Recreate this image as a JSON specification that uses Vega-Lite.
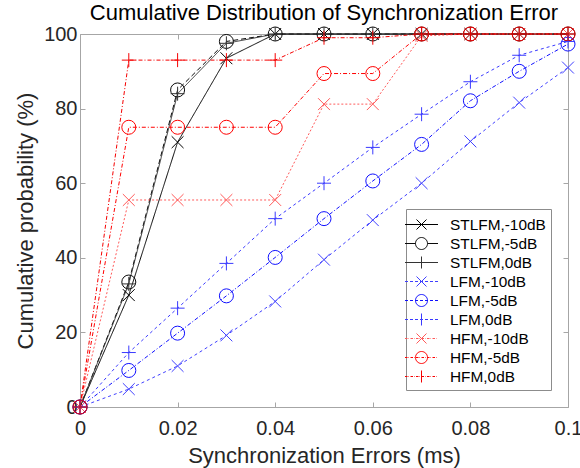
{
  "$schema": "https://vega.github.io/schema/vega-lite/v6.json",
  "width": 488,
  "height": 373,
  "autosize": {"type": "none"},
  "padding": {"left": 80, "top": 34, "right": 12, "bottom": 61},
  "background": "white",
  "config": {"view": {"stroke": null}, "font": "Liberation Sans"},
  "title": {"text": "Cumulative Distribution of Synchronization Error", "fontSize": 22, "fontWeight": "normal", "color": "#000000", "anchor": "middle", "offset": -1},
  "data": {"values": [
    {"s":"STLFM,-10dB","x":0,"y":0},{"s":"STLFM,-10dB","x":0.01,"y":30},{"s":"STLFM,-10dB","x":0.02,"y":71},{"s":"STLFM,-10dB","x":0.03,"y":93.5},{"s":"STLFM,-10dB","x":0.04,"y":100},{"s":"STLFM,-10dB","x":0.05,"y":100},{"s":"STLFM,-10dB","x":0.06,"y":100},{"s":"STLFM,-10dB","x":0.07,"y":100},{"s":"STLFM,-10dB","x":0.08,"y":100},{"s":"STLFM,-10dB","x":0.09,"y":100},{"s":"STLFM,-10dB","x":0.1,"y":100},
    {"s":"STLFM,-5dB","x":0,"y":0},{"s":"STLFM,-5dB","x":0.01,"y":33.5},{"s":"STLFM,-5dB","x":0.02,"y":85},{"s":"STLFM,-5dB","x":0.03,"y":98},{"s":"STLFM,-5dB","x":0.04,"y":100},{"s":"STLFM,-5dB","x":0.05,"y":100},{"s":"STLFM,-5dB","x":0.06,"y":100},{"s":"STLFM,-5dB","x":0.07,"y":100},{"s":"STLFM,-5dB","x":0.08,"y":100},{"s":"STLFM,-5dB","x":0.09,"y":100},{"s":"STLFM,-5dB","x":0.1,"y":100},
    {"s":"STLFM,0dB","x":0,"y":0},{"s":"STLFM,0dB","x":0.01,"y":33},{"s":"STLFM,0dB","x":0.02,"y":84},{"s":"STLFM,0dB","x":0.03,"y":97.5},{"s":"STLFM,0dB","x":0.04,"y":100},{"s":"STLFM,0dB","x":0.05,"y":100},{"s":"STLFM,0dB","x":0.06,"y":100},{"s":"STLFM,0dB","x":0.07,"y":100},{"s":"STLFM,0dB","x":0.08,"y":100},{"s":"STLFM,0dB","x":0.09,"y":100},{"s":"STLFM,0dB","x":0.1,"y":100},
    {"s":"LFM,-10dB","x":0,"y":0},{"s":"LFM,-10dB","x":0.01,"y":4.8},{"s":"LFM,-10dB","x":0.02,"y":11},{"s":"LFM,-10dB","x":0.03,"y":19.2},{"s":"LFM,-10dB","x":0.04,"y":28.3},{"s":"LFM,-10dB","x":0.05,"y":39.5},{"s":"LFM,-10dB","x":0.06,"y":50.1},{"s":"LFM,-10dB","x":0.07,"y":60},{"s":"LFM,-10dB","x":0.08,"y":71.2},{"s":"LFM,-10dB","x":0.09,"y":81.6},{"s":"LFM,-10dB","x":0.1,"y":91},
    {"s":"LFM,-5dB","x":0,"y":0},{"s":"LFM,-5dB","x":0.01,"y":9.8},{"s":"LFM,-5dB","x":0.02,"y":19.8},{"s":"LFM,-5dB","x":0.03,"y":29.8},{"s":"LFM,-5dB","x":0.04,"y":40.1},{"s":"LFM,-5dB","x":0.05,"y":50.5},{"s":"LFM,-5dB","x":0.06,"y":60.6},{"s":"LFM,-5dB","x":0.07,"y":70.4},{"s":"LFM,-5dB","x":0.08,"y":82.1},{"s":"LFM,-5dB","x":0.09,"y":90},{"s":"LFM,-5dB","x":0.1,"y":97.3},
    {"s":"LFM,0dB","x":0,"y":0},{"s":"LFM,0dB","x":0.01,"y":14.6},{"s":"LFM,0dB","x":0.02,"y":26.5},{"s":"LFM,0dB","x":0.03,"y":38.5},{"s":"LFM,0dB","x":0.04,"y":50.5},{"s":"LFM,0dB","x":0.05,"y":60},{"s":"LFM,0dB","x":0.06,"y":69.6},{"s":"LFM,0dB","x":0.07,"y":78.5},{"s":"LFM,0dB","x":0.08,"y":87.2},{"s":"LFM,0dB","x":0.09,"y":94.3},{"s":"LFM,0dB","x":0.1,"y":98},
    {"s":"HFM,-10dB","x":0,"y":0},{"s":"HFM,-10dB","x":0.01,"y":55.5},{"s":"HFM,-10dB","x":0.02,"y":55.5},{"s":"HFM,-10dB","x":0.03,"y":55.5},{"s":"HFM,-10dB","x":0.04,"y":55.5},{"s":"HFM,-10dB","x":0.05,"y":81.2},{"s":"HFM,-10dB","x":0.06,"y":81.2},{"s":"HFM,-10dB","x":0.07,"y":99.5},{"s":"HFM,-10dB","x":0.08,"y":100},{"s":"HFM,-10dB","x":0.09,"y":100},{"s":"HFM,-10dB","x":0.1,"y":100},
    {"s":"HFM,-5dB","x":0,"y":0},{"s":"HFM,-5dB","x":0.01,"y":75},{"s":"HFM,-5dB","x":0.02,"y":75},{"s":"HFM,-5dB","x":0.03,"y":75},{"s":"HFM,-5dB","x":0.04,"y":75},{"s":"HFM,-5dB","x":0.05,"y":89.4},{"s":"HFM,-5dB","x":0.06,"y":89.4},{"s":"HFM,-5dB","x":0.07,"y":100},{"s":"HFM,-5dB","x":0.08,"y":100},{"s":"HFM,-5dB","x":0.09,"y":100},{"s":"HFM,-5dB","x":0.1,"y":100},
    {"s":"HFM,0dB","x":0,"y":0},{"s":"HFM,0dB","x":0.01,"y":93},{"s":"HFM,0dB","x":0.02,"y":93},{"s":"HFM,0dB","x":0.03,"y":93},{"s":"HFM,0dB","x":0.04,"y":93},{"s":"HFM,0dB","x":0.05,"y":99},{"s":"HFM,0dB","x":0.06,"y":99},{"s":"HFM,0dB","x":0.07,"y":100},{"s":"HFM,0dB","x":0.08,"y":100},{"s":"HFM,0dB","x":0.09,"y":100},{"s":"HFM,0dB","x":0.1,"y":100}
  ]},
  "layer": [
    {
      "mark": {"type": "line", "strokeWidth": 1, "clip": false},
      "encoding": {
        "x": {"field": "x", "type": "quantitative", "scale": {"domain": [0, 0.1], "nice": false, "zero": false},
          "axis": {"orient": "bottom", "values": [0, 0.02, 0.04, 0.06, 0.08, 0.1], "format": "~g", "grid": false,
            "title": "Synchronization Errors (ms)", "titleFontSize": 22, "titleFontWeight": "normal", "titleColor": "#262626", "titlePadding": 7,
            "labelFontSize": 20, "labelColor": "#262626", "labelPadding": 16, "labelFlush": false,
            "domainColor": "#a6a6a6", "tickColor": "#a6a6a6", "tickSize": -5}},
        "y": {"field": "y", "type": "quantitative", "scale": {"domain": [0, 100], "nice": false},
          "axis": {"orient": "left", "values": [0, 20, 40, 60, 80, 100], "grid": false,
            "title": "Cumulative probability (%)", "titleFontSize": 22, "titleFontWeight": "normal", "titleColor": "#262626", "titlePadding": 6,
            "labelFontSize": 20, "labelColor": "#262626", "labelPadding": 8, "labelFlush": false,
            "domainColor": "#a6a6a6", "tickColor": "#a6a6a6", "tickSize": -5}},
        "color": {"field": "s", "type": "nominal", "legend": null,
          "scale": {"domain": ["STLFM,-10dB","STLFM,-5dB","STLFM,0dB","LFM,-10dB","LFM,-5dB","LFM,0dB","HFM,-10dB","HFM,-5dB","HFM,0dB"],
            "range": ["#000000","#0a0a0a","#333333","#4040ff","#1010ff","#3a3aff","#ff5a5a","#ff0000","#f50000"]}},
        "strokeDash": {"field": "s", "type": "nominal", "legend": null,
          "scale": {"domain": ["STLFM,-10dB","STLFM,-5dB","STLFM,0dB","LFM,-10dB","LFM,-5dB","LFM,0dB","HFM,-10dB","HFM,-5dB","HFM,0dB"],
            "range": [[1,0],[5,3],[1,0],[3,3],[4,2,1,2],[3,3],[2,2],[4,2,1,2],[4,2,1,2]]}}
      }
    },
    {
      "transform": [{"filter": {"field": "s", "oneOf": ["STLFM,-10dB", "LFM,-10dB", "HFM,-10dB"]}}],
      "mark": {"type": "point", "filled": false, "strokeWidth": 1, "opacity": 1, "size": 196, "shape": "M-0.85,-0.85L0.85,0.85M-0.85,0.85L0.85,-0.85"},
      "encoding": {
        "x": {"field": "x", "type": "quantitative",
          "axis": {"orient": "top", "values": [0, 0.02, 0.04, 0.06, 0.08, 0.1], "labels": false, "title": null, "grid": false,
            "domainColor": "#a6a6a6", "tickColor": "#a6a6a6", "tickSize": -5}},
        "y": {"field": "y", "type": "quantitative",
          "axis": {"orient": "right", "values": [0, 20, 40, 60, 80, 100], "labels": false, "title": null, "grid": false,
            "domainColor": "#a6a6a6", "tickColor": "#a6a6a6", "tickSize": -5}},
        "color": {"field": "s", "type": "nominal", "legend": null}
      }
    },
    {
      "transform": [{"filter": {"field": "s", "oneOf": ["STLFM,-5dB", "LFM,-5dB", "HFM,-5dB"]}}],
      "mark": {"type": "point", "filled": false, "strokeWidth": 1, "opacity": 1, "size": 196, "shape": "circle"},
      "encoding": {
        "x": {"field": "x", "type": "quantitative", "axis": null},
        "y": {"field": "y", "type": "quantitative", "axis": null},
        "color": {"field": "s", "type": "nominal", "legend": null}
      }
    },
    {
      "transform": [{"filter": {"field": "s", "oneOf": ["STLFM,0dB", "LFM,0dB", "HFM,0dB"]}}],
      "mark": {"type": "point", "filled": false, "strokeWidth": 1, "opacity": 1, "size": 196, "shape": "M-1,0H1M0,-1V1"},
      "encoding": {
        "x": {"field": "x", "type": "quantitative", "axis": null},
        "y": {"field": "y", "type": "quantitative", "axis": null},
        "color": {"field": "s", "type": "nominal", "legend": null}
      }
    },
    {
      "transform": [{"filter": "datum.x == 0"}],
      "mark": {"type": "point", "filled": false, "strokeWidth": 1, "opacity": 0, "size": 400},
      "encoding": {
        "x": {"field": "x", "type": "quantitative", "axis": null},
        "y": {"field": "y", "type": "quantitative", "axis": null},
        "color": {"field": "s", "type": "nominal",
          "legend": {"orient": "bottom-right", "offset": 17, "title": null, "fillColor": "white", "strokeColor": "#8c8c8c", "padding": 5,
            "labelFontSize": 15.4, "labelColor": "#000000", "symbolSize": 400, "symbolStrokeWidth": 1, "symbolOpacity": 1, "rowPadding": -2,
            "symbolOffset": 0, "labelOffset": 18}},
        "shape": {"field": "s", "type": "nominal",
          "scale": {"domain": ["STLFM,-10dB","STLFM,-5dB","STLFM,0dB","LFM,-10dB","LFM,-5dB","LFM,0dB","HFM,-10dB","HFM,-5dB","HFM,0dB"],
            "range": [
              "M-1.65,0H1.65M-0.5,-0.5L0.5,0.5M-0.5,0.5L0.5,-0.5",
              "M-1.65,0H-0.6M0.6,0H1.65M-0.6,0A0.6,0.6,0,1,1,0.6,0A0.6,0.6,0,1,1,-0.6,0",
              "M-1.65,0H1.65M0,-0.6V0.6",
              "M-1.65,0h0.3m0.2,0h0.3m0.2,0h0.3m0.2,0h0.3m0.2,0h0.3m0.2,0h0.3m0.2,0h0.3M-0.5,-0.5L0.5,0.5M-0.5,0.5L0.5,-0.5",
              "M-1.65,0h0.3m0.2,0h0.3m0.2,0h0.3m0.2,0h0.3m0.2,0h0.3m0.2,0h0.3m0.2,0h0.3M-0.6,0A0.6,0.6,0,1,1,0.6,0A0.6,0.6,0,1,1,-0.6,0",
              "M-1.65,0h0.3m0.2,0h0.3m0.2,0h0.3m0.2,0h0.3m0.2,0h0.3m0.2,0h0.3m0.2,0h0.3M0,-0.6V0.6",
              "M-1.65,0h0.25m0.1,0h0.05m0.15,0h0.25m0.1,0h0.05m0.15,0h0.25m0.1,0h0.05m0.15,0h0.25m0.1,0h0.05m0.15,0h0.25m0.1,0h0.05m0.15,0h0.25m0.1,0h0.05M-0.5,-0.5L0.5,0.5M-0.5,0.5L0.5,-0.5",
              "M-1.65,0h0.25m0.1,0h0.05m0.15,0h0.25m0.1,0h0.05m0.15,0h0.25m0.1,0h0.05m0.15,0h0.25m0.1,0h0.05m0.15,0h0.25m0.1,0h0.05m0.15,0h0.25m0.1,0h0.05M-0.6,0A0.6,0.6,0,1,1,0.6,0A0.6,0.6,0,1,1,-0.6,0",
              "M-1.65,0h0.25m0.1,0h0.05m0.15,0h0.25m0.1,0h0.05m0.15,0h0.25m0.1,0h0.05m0.15,0h0.25m0.1,0h0.05m0.15,0h0.25m0.1,0h0.05m0.15,0h0.25m0.1,0h0.05M0,-0.6V0.6"
            ]},
          "legend": {"orient": "bottom-right", "offset": 17, "title": null, "fillColor": "white", "strokeColor": "#8c8c8c", "padding": 5,
            "labelFontSize": 15.4, "labelColor": "#000000", "symbolSize": 400, "symbolStrokeWidth": 1, "symbolOpacity": 1, "rowPadding": -2,
            "symbolOffset": 0, "labelOffset": 18}}
      }
    }
  ],
  "resolve": {"axis": {"x": "independent", "y": "independent"}, "legend": {"color": "independent", "shape": "independent"}}
}
